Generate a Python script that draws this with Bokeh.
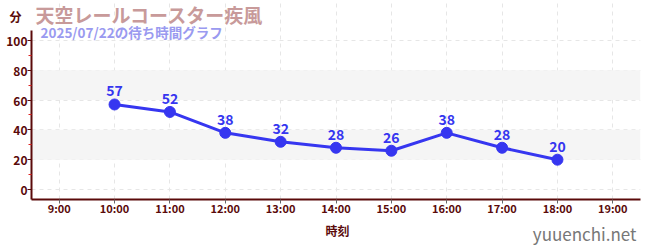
from bokeh.plotting import figure
from bokeh.layouts import column
from bokeh.models import (Label, FixedTicker, Range1d, ColumnDataSource, BoxAnnotation,
                          LinearAxis)
from bokeh.core.properties import value
from bokeh.embed import file_html
from bokeh.resources import INLINE

# wait times by hour
hours = [10, 11, 12, 13, 14, 15, 16, 17, 18]
waits = [57, 52, 38, 32, 28, 26, 38, 28, 20]
tick_hours = [9, 10, 11, 12, 13, 14, 15, 16, 17, 18, 19]
tick_labels = {h: f"{h}:00" for h in tick_hours}
y_ticks = [0, 20, 40, 60, 80, 100]
y_minor = [10, 30, 50, 70, 90]
shaded_bands = [(20, 40), (60, 80)]

title = "天空レールコースター疾風"
subtitle = "2025/07/22の待ち時間グラフ"
unit_label = "分"
x_label = "時刻"
site = "yuuenchi.net"

font = "Noto Sans CJK JP"
axis_dark = "#5a0a0a"
line_blue = "#3636f0"
W = 650

# value range: the frame runs from the top of the canvas, 1.5 px per minute
y_lo = -20 / 3
y_hi = y_lo + 200 / 1.5
y_axis_top = 106.7
unit_pos = 116          # where the unit caption sits on the value scale

p = figure(width=W, height=218, output_backend="svg", toolbar_location=None,
           x_range=Range1d(8.5, 19.5), y_range=Range1d(y_lo, y_hi),
           min_border_left=31, min_border_right=10, min_border_top=0, min_border_bottom=18)
p.outline_line_color = None

# time axis
p.xaxis.ticker = FixedTicker(ticks=tick_hours)
p.xaxis.major_label_overrides = tick_labels
p.xaxis.major_label_text_font = font
p.xaxis.major_label_text_font_style = "bold"
p.xaxis.major_label_text_font_size = "11px"
p.xaxis.major_label_text_color = axis_dark
p.xaxis.major_label_standoff = -4
p.xaxis.axis_line_color = axis_dark
p.xaxis.axis_line_width = 2
p.xaxis.major_tick_line_color = "#666666"
p.xaxis.major_tick_in = 0
p.xaxis.major_tick_out = 4
p.xaxis.minor_tick_line_color = None

# value axis: line and tick marks
p.yaxis.ticker = FixedTicker(ticks=y_ticks, minor_ticks=y_minor)
p.yaxis.bounds = (y_lo, y_axis_top)
p.yaxis.major_label_overrides = {t: "" for t in y_ticks}
p.yaxis.major_label_standoff = 0
p.yaxis.axis_line_color = axis_dark
p.yaxis.axis_line_width = 2
p.yaxis.major_tick_line_color = axis_dark
p.yaxis.major_tick_in = 0
p.yaxis.major_tick_out = 4
p.yaxis.minor_tick_line_color = "#dd2222"
p.yaxis.minor_tick_in = 0
p.yaxis.minor_tick_out = 3

# value axis: numbers plus the unit caption above them
labels_axis = LinearAxis(ticker=FixedTicker(ticks=y_ticks + [unit_pos]),
                         major_label_overrides={unit_pos: unit_label + "\u2002"},
                         axis_line_color=None, major_tick_line_color=None,
                         minor_tick_line_color=None, major_tick_in=0, major_tick_out=0,
                         minor_tick_in=0, minor_tick_out=0, major_label_standoff=0,
                         major_label_text_font=font, major_label_text_font_style="bold",
                         major_label_text_font_size="12px",
                         major_label_text_color=axis_dark)
p.add_layout(labels_axis, "left")

# grid and alternating bands
p.xgrid.grid_line_color = "#e6e6e6"
p.xgrid.grid_line_dash = "4 4"
p.xgrid.bounds = (y_lo, y_axis_top)
p.ygrid.grid_line_color = "#e6e6e6"
p.ygrid.grid_line_dash = "4 4"
for lo, hi in shaded_bands:
    p.add_layout(BoxAnnotation(bottom=lo, top=hi, fill_color="#f5f5f5", fill_alpha=1.0,
                               line_color=None, level="underlay"))

src = ColumnDataSource(dict(x=hours, y=waits, t=[str(v) for v in waits]))
p.line("x", "y", source=src, line_color=line_blue, line_width=3)
p.scatter("x", "y", source=src, size=11, fill_color=line_blue, line_color=line_blue)
p.text("x", "y", text="t", source=src, text_align="center", text_baseline="bottom",
       y_offset=-8, text_font=value(font), text_font_style="bold",
       text_font_size="14px", text_color=line_blue)


def canvas_label(f, x, y, text, size, color, bold=True, align="left"):
    f.add_layout(Label(x=x, y=y, x_units="canvas", y_units="canvas", text=text,
                       text_align=align, text_baseline="middle",
                       text_font=font, text_font_style="bold" if bold else "normal",
                       text_font_size=size, text_color=color))


canvas_label(p, 35, 14, title, "19px", "#c89a9a")
canvas_label(p, 40, 31, subtitle, "13.5px", "#9a9af0")

# footer strip: axis title and site name
foot = figure(width=W, height=32, output_backend="svg", toolbar_location=None,
              x_axis_type=None, y_axis_type=None, min_border=0)
foot.outline_line_color = None
foot.grid.visible = False
canvas_label(foot, 337, 12, x_label, "12px", axis_dark, align="center")
canvas_label(foot, 636, 15, site, "17px", "#777777", bold=False, align="right")

layout = column(p, foot, spacing=0)
open("out.html", "w").write(file_html(layout, INLINE))
